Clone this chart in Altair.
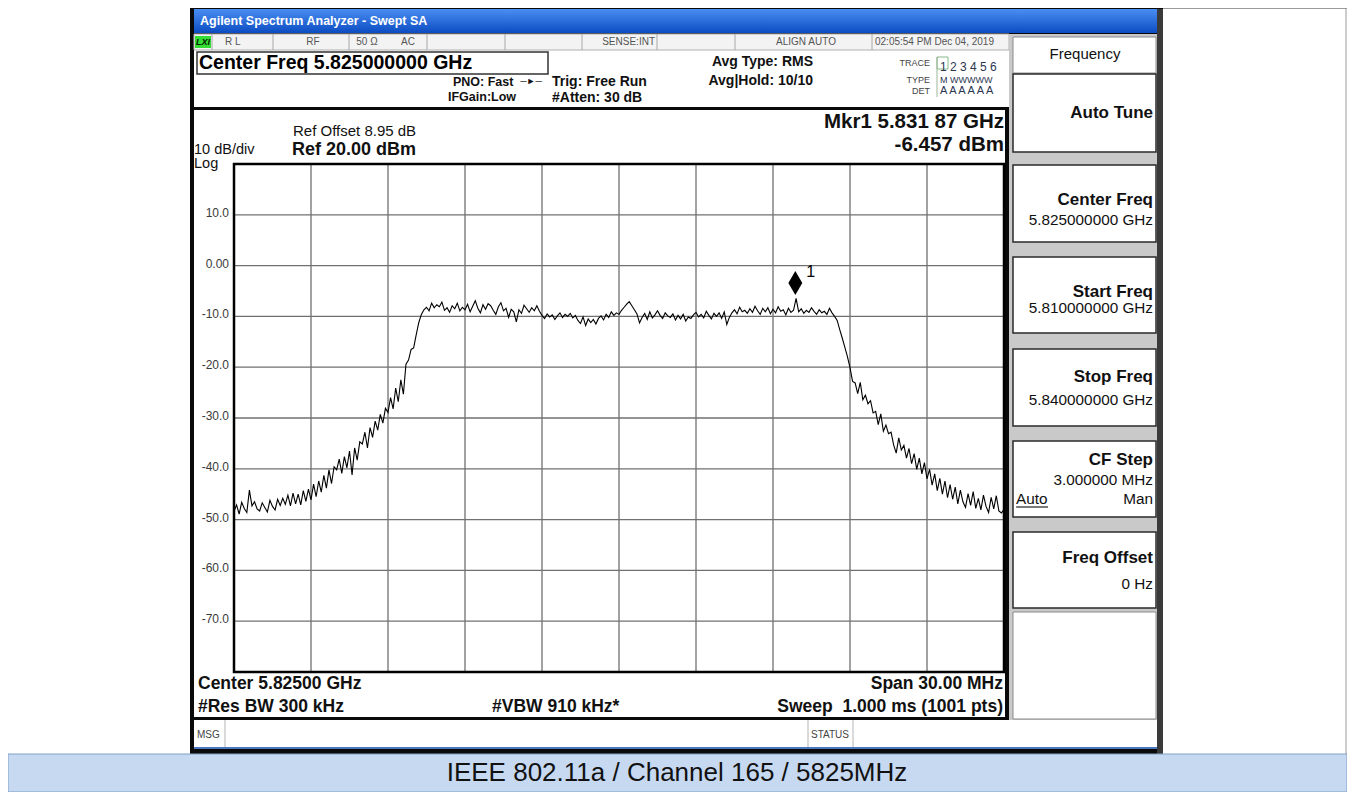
import altair as alt
import pandas as pd

# ---------------- data ----------------
sweep_start_mhz = 5810.0
sweep_step_mhz = 0.1
trace_dbm = [
    -48.4, -47.1, -48.9, -46.6, -47.8, -48.6, -44.2, -47.3, -46.5, -47.9,
    -48.3, -46.7, -47.6, -48.5, -46.2, -47.4, -48.1, -46.0, -47.2, -45.8,
    -47.0, -45.2, -47.3, -44.8, -46.9, -45.0, -47.1, -44.3, -46.4, -44.0,
    -46.1, -43.0, -45.5, -42.4, -44.6, -41.3, -43.8, -40.2, -42.9, -39.6,
    -40.2, -38.1, -40.9, -37.6, -39.8, -36.5, -41.2, -35.9, -38.3, -34.7,
    -35.1, -32.8, -35.9, -31.9, -33.8, -30.6, -32.4, -29.3, -31.0, -28.1,
    -28.9, -26.0, -28.2, -24.1, -26.8, -22.5, -25.3, -19.4, -18.6, -16.5,
    -16.2, -13.6, -11.2, -9.6, -8.7, -8.2, -8.9, -7.4, -8.3, -7.7,
    -8.1, -7.2, -8.8, -8.3, -9.2, -7.9, -8.5, -7.4, -8.9, -8.2,
    -8.7, -7.6, -9.1, -8.0, -6.9, -8.4, -9.3, -7.7, -8.6, -7.5,
    -7.9, -8.8, -9.6, -8.1, -7.3, -8.9, -8.4, -10.2, -8.6, -9.1,
    -11.1, -8.7, -9.4, -7.8, -8.5, -9.2, -8.3, -8.9, -7.9, -9.0,
    -9.8, -10.4, -9.5, -10.1, -9.7, -10.6, -9.9, -9.3, -10.2, -9.6,
    -10.0, -9.4, -10.3, -9.8, -10.8, -11.4, -10.1, -11.8, -10.5, -11.2,
    -10.6, -11.5, -10.4, -9.9, -10.7, -9.6, -10.2, -9.1, -9.8, -9.3,
    -9.6, -8.8, -8.2, -7.6, -7.1, -7.9, -8.7, -9.5, -11.3, -10.2,
    -9.4, -10.6, -9.1, -10.3, -9.7, -8.9, -9.8, -10.4, -9.3, -9.9,
    -10.2, -9.5, -10.7, -9.8, -10.5, -9.6, -10.9, -10.1, -10.4, -9.7,
    -9.2, -10.1, -9.6, -10.3, -9.0, -9.8, -10.5, -9.4, -10.0, -9.3,
    -10.4, -9.1, -11.6, -10.2, -9.3, -8.7, -9.5, -8.2, -9.1, -8.8,
    -9.4, -8.5, -9.2, -8.0, -8.9, -9.6, -8.4, -9.1, -8.3, -9.5,
    -8.6, -9.3, -8.1, -9.0, -8.7, -9.7, -8.4, -9.2, -8.8, -6.46,
    -9.1, -8.5, -9.4, -8.8, -9.2, -8.3, -9.0, -9.6, -8.7, -9.3,
    -9.0, -9.6, -8.4, -9.3, -10.0, -10.8, -12.6, -14.3, -16.1, -17.9,
    -20.1, -22.8, -23.1, -25.2, -23.0, -26.4, -25.5, -27.2, -26.6, -29.0,
    -28.7, -31.3, -29.2, -32.6, -31.4, -33.1, -32.8, -35.3, -36.9, -33.9,
    -36.3, -35.4, -37.9, -36.0, -39.0, -37.0, -40.1, -37.9, -41.0, -38.8,
    -42.0, -40.1, -43.2, -41.0, -44.3, -41.9, -45.0, -42.4, -45.7, -43.1,
    -46.0, -43.6, -46.9, -44.2, -46.5, -47.6, -44.9, -47.2, -44.5, -47.8,
    -45.8, -48.1, -45.2, -47.4, -48.6, -45.6, -47.9, -45.3, -48.3, -48.7,
    -48.0,
]
x_grid_mhz = [5810, 5813, 5816, 5819, 5822, 5825, 5828, 5831, 5834, 5837, 5840]
y_grid_dbm = [20, 10, 0, -10, -20, -30, -40, -50, -60, -70, -80]
y_label_dbm = [10, 0, -10, -20, -30, -40, -50, -60, -70]
y_label_text = ["10.0", "0.00", "-10.0", "-20.0", "-30.0", "-40.0", "-50.0", "-60.0", "-70.0"]
marker_freq_mhz = [5831.87]
marker_level_dbm = [-6.457]
marker_name = ["1"]

freq_mhz = [round(sweep_start_mhz + i * sweep_step_mhz, 2) for i in range(len(trace_dbm))]

# ---------------- layout ----------------
PX0, PY0 = 234, 164          # page position of the plot area
W, H = 770, 508
FONT = "Liberation Sans"

xs = alt.Scale(domain=[5810, 5840], nice=False, zero=False)
ys = alt.Scale(domain=[-80, 20], nice=False, zero=False)


def R(x1, y1, x2, y2, fill, stroke="transparent", sw=0):
    return dict(x1=x1 - PX0, y1=y1 - PY0, x2=x2 - PX0, y2=y2 - PY0,
                fill=fill, stroke=stroke, sw=sw)


rects = [
    R(190, 8, 1163, 754, "#0a0a0a"),
    R(194, 34, 1009, 107, "#ffffff"),
    R(194, 34, 1009, 50, "#f3f3f3", "#b0b0b0", 1),
    R(194, 110, 1005, 717, "#ffffff"),
    R(194, 720, 1158, 748, "#ffffff"),
    R(194, 747, 1158, 749, "#4a78c0"),
    R(1009, 34, 1157, 720, "#c9c9c9"),
    R(1157, 9, 1163, 754, "#3a3a3a"),
    R(1013, 37, 1156, 73, "#ffffff", "#8a8a8a", 1),
    R(1013, 74, 1156, 152, "#ffffff", "#2a2a2a", 1.5),
    R(1013, 165, 1156, 242, "#ffffff", "#2a2a2a", 1.5),
    R(1013, 257, 1156, 333, "#ffffff", "#2a2a2a", 1.5),
    R(1013, 349, 1156, 426, "#ffffff", "#2a2a2a", 1.5),
    R(1013, 441, 1156, 517, "#ffffff", "#2a2a2a", 1.5),
    R(1013, 532, 1156, 608, "#ffffff", "#2a2a2a", 1.5),
    R(1013, 612, 1156, 719, "#ffffff", "#8a8a8a", 1),
    R(197, 52, 548, 74, "#ffffff", "#333333", 1.5),
    R(195, 36, 211, 48, "#33dd33"),
    R(937, 57, 948, 69, "transparent", "#88b888", 1),
    R(8, 754, 1347, 792, "#c6d9f1", "#7f9fc8", 1),
]


def L(x1, y1, x2, y2, color, sw=1):
    return dict(x1=x1 - PX0, y1=y1 - PY0, x2=x2 - PX0, y2=y2 - PY0, c=color, sw=sw)


lines = [L(x, 34, x, 50, "#a8a8a8") for x in [212, 273, 349, 427, 505, 582, 657, 735, 872]]
lines += [L(x, 720, x, 747, "#b5b5b5") for x in [225, 808, 853]]
lines += [
    L(937, 57, 937, 97, "#9ab89a"),
    L(1016, 507, 1048, 507, "#222222", 1.2),
    L(1346, 8, 1346, 754, "#9a9a9a"),
    L(1163, 8.5, 1347, 8.5, "#9a9a9a"),
]

rect_layer = alt.Chart(pd.DataFrame(rects)).mark_rect().encode(
    x=alt.X("x1:Q", scale=None, axis=None), x2="x2:Q",
    y=alt.Y("y1:Q", scale=None, axis=None), y2="y2:Q",
    fill=alt.Fill("fill:N", scale=None, legend=None),
    stroke=alt.Stroke("stroke:N", scale=None, legend=None),
    strokeWidth=alt.StrokeWidth("sw:Q", scale=None, legend=None),
)

title_bar = alt.Chart(pd.DataFrame([R(194, 9, 1157, 33, "#000")])).mark_rect(
    fill=alt.Gradient(gradient="linear",
                      stops=[alt.GradientStop(color="#4a8ef2", offset=0),
                             alt.GradientStop(color="#0c4cc2", offset=1)],
                      x1=0, x2=0, y1=0, y2=1)
).encode(x=alt.X("x1:Q", scale=None, axis=None), x2="x2:Q",
         y=alt.Y("y1:Q", scale=None, axis=None), y2="y2:Q")

line_layer = alt.Chart(pd.DataFrame(lines)).mark_rule().encode(
    x=alt.X("x1:Q", scale=None, axis=None), x2="x2:Q",
    y=alt.Y("y1:Q", scale=None, axis=None), y2="y2:Q",
    stroke=alt.Stroke("c:N", scale=None, legend=None),
    strokeWidth=alt.StrokeWidth("sw:Q", scale=None, legend=None),
)

grid_x = alt.Chart(pd.DataFrame({"f": x_grid_mhz})).mark_rule(
    color="#707070", strokeWidth=1.3
).encode(x=alt.X("f:Q", scale=xs, axis=None), y=alt.value(0), y2=alt.value(H))

grid_y = alt.Chart(pd.DataFrame({"l": y_grid_dbm})).mark_rule(
    color="#707070", strokeWidth=1.3
).encode(y=alt.Y("l:Q", scale=ys, axis=None), x=alt.value(0), x2=alt.value(W))

y_labels = alt.Chart(pd.DataFrame({"v": y_label_dbm, "s": y_label_text})).mark_text(
    align="right", baseline="middle", dx=-5, dy=-2, fontSize=12, font=FONT, color="#3a3a3a"
).encode(x=alt.value(0), y=alt.Y("v:Q", scale=ys, axis=None), text="s:N")

trace = alt.Chart(pd.DataFrame({"freq": freq_mhz, "dbm": trace_dbm})).mark_line(
    color="#000000", strokeWidth=1.1
).encode(x=alt.X("freq:Q", scale=xs, axis=None), y=alt.Y("dbm:Q", scale=ys, axis=None))

border = alt.Chart(pd.DataFrame({"a": [0]})).mark_rect(
    fillOpacity=0, stroke="#000000", strokeWidth=2.5
).encode(x=alt.value(0), x2=alt.value(W), y=alt.value(0), y2=alt.value(H))

mk_df = pd.DataFrame({"f": marker_freq_mhz, "v": marker_level_dbm, "n": marker_name})
marker = alt.Chart(mk_df).mark_point(
    shape="M0,-1L0.58,0L0,1L-0.58,0Z", size=576, filled=True, color="#000000",
    opacity=1, yOffset=-15.5
).encode(x=alt.X("f:Q", scale=xs, axis=None), y=alt.Y("v:Q", scale=ys, axis=None))
marker_lbl = alt.Chart(mk_df).mark_text(
    align="left", baseline="middle", dx=11, dy=-26, fontSize=16, font=FONT, color="#000000"
).encode(x=alt.X("f:Q", scale=xs, axis=None), y=alt.Y("v:Q", scale=ys, axis=None), text="n:N")


def T(items, size, weight="normal", align="left", color="#111111", style="normal"):
    df = pd.DataFrame([{"t": t, "x": x - PX0, "y": y - PY0} for t, x, y in items])
    return alt.Chart(df).mark_text(
        align=align, baseline="middle", fontSize=size, fontWeight=weight,
        color=color, font=FONT, fontStyle=style
    ).encode(x=alt.X("x:Q", scale=None, axis=None),
             y=alt.Y("y:Q", scale=None, axis=None), text="t:N")


texts = [
    T([("Agilent Spectrum Analyzer - Swept SA", 200, 21)], 12.5, "bold", color="#ffffff"),
    T([("R L", 225, 42), ("02:05:54 PM Dec 04, 2019", 875, 42)], 10, color="#555555"),
    T([("RF", 313, 42), ("50 Ω", 367, 42), ("AC", 408, 42), ("ALIGN AUTO", 806, 42)],
      10, align="center", color="#555555"),
    T([("SENSE:INT", 655, 42)], 10, align="right", color="#555555"),
    T([("LXI", 203, 42)], 9, "bold", align="center", color="#002200", style="italic"),
    T([("Center Freq 5.825000000 GHz", 199, 63)], 19.5, "bold", color="#000000"),
    T([("PNO: Fast", 453, 82), ("IFGain:Low", 448, 97)], 12.5, "bold"),
    T([("─►─", 531, 81)], 9, align="center"),
    T([("Trig: Free Run", 552, 82), ("#Atten: 30 dB", 552, 98)], 14, "bold"),
    T([("Avg Type: RMS", 813, 62), ("Avg|Hold: 10/10", 813, 81)], 14, "bold", align="right"),
    T([("TRACE", 930, 63), ("TYPE", 930, 80), ("DET", 930, 91)], 9, align="right", color="#444444"),
    T([("1 2 3 4 5 6", 940, 67)], 12, color="#2a3550"),
    T([("M WWWWW", 940, 80)], 9, color="#2a3550"),
    T([("A A A A A A", 940, 91)], 11, color="#2a3550"),
    T([("Ref Offset 8.95 dB", 293, 131)], 15),
    T([("10 dB/div", 194, 150), ("Log", 194, 164)], 14.5),
    T([("Ref 20.00 dBm", 292, 150)], 18, "bold"),
    T([("Mkr1 5.831 87 GHz", 1004, 122), ("-6.457 dBm", 1004, 145)], 20.5, "bold", align="right"),
    T([("Center 5.82500 GHz", 198, 684), ("#Res BW 300 kHz", 198, 707),
       ("#VBW 910 kHz*", 492, 707)], 17.5, "bold"),
    T([("Span 30.00 MHz", 1003, 684), ("Sweep\u00a0 1.000 ms (1001 pts)", 1003, 707)],
      17.5, "bold", align="right"),
    T([("MSG", 197, 735)], 10, color="#444444"),
    T([("STATUS", 830, 735)], 10, align="center", color="#444444"),
    T([("Frequency", 1085, 54)], 15, align="center"),
    T([("Auto Tune", 1153, 113), ("Center Freq", 1153, 200), ("Start Freq", 1153, 292),
       ("Stop Freq", 1153, 377), ("CF Step", 1153, 460), ("Freq Offset", 1153, 558)],
      17, "bold", align="right"),
    T([("5.825000000 GHz", 1153, 220), ("5.810000000 GHz", 1153, 308),
       ("5.840000000 GHz", 1153, 400), ("3.000000 MHz", 1153, 480), ("Man", 1153, 499),
       ("0 Hz", 1153, 584)], 15.3, align="right"),
    T([("Auto", 1016, 499)], 15.3),
    T([("IEEE 802.11a / Channel 165 / 5825MHz", 677, 773)], 26, align="center"),
]

chart = alt.layer(
    rect_layer, title_bar, line_layer, grid_x, grid_y, trace, border, marker, marker_lbl,
    y_labels, *texts
).properties(
    width=W, height=H,
    autosize=alt.AutoSizeParams(type="none"),
    padding={"left": PX0 - 8, "top": PY0 - 8, "right": 1339 - (PX0 - 8) - W,
             "bottom": 784 - (PY0 - 8) - H},
    background="#ffffff",
).configure_view(strokeWidth=0)

chart.save("out.html", embed_options={"renderer": "svg", "actions": False})
